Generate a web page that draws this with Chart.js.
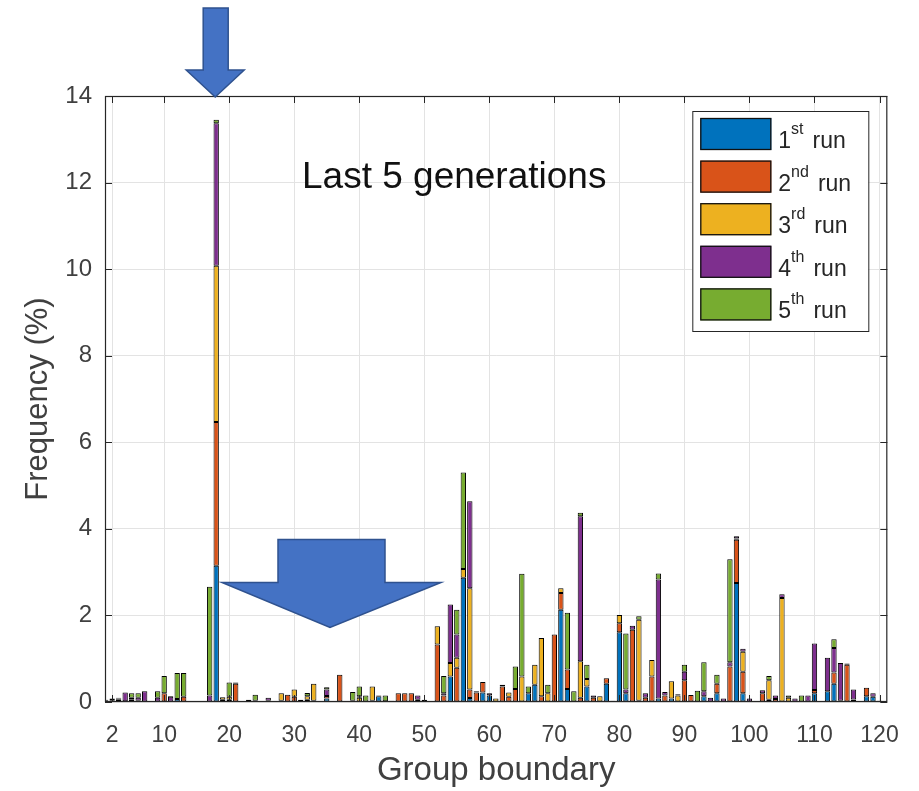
<!DOCTYPE html>
<html><head><meta charset="utf-8">
<script src="https://cdn.jsdelivr.net/npm/chart.js@4.4.0/dist/chart.umd.min.js"></script>
<style>html,body{margin:0;padding:0;background:#fff;}#wrap{width:919px;height:791px;}</style>
</head><body><div id="wrap"><canvas id="c" width="919" height="791"></canvas></div>
<script>
const groupBoundary = Array.from({length: 120}, (_, i) => i + 1);
const run1 = [
0.03,0.04,0.05,0,0.05,0,0,0,0,0,
0,0.07,0,0.01,0.01,0.01,0,3.15,0,0,
0,0,0.02,0,0,0.03,0,0,0,0,
0.02,0,0,0,0.08,0,0,0,0,0,
0,0,0.13,0,0,0,0,0,0,0,
0,0,0,0.59,0,2.87,0.09,0,0.22,0.15,
0,0,0,0,0,0.2,0.4,0,0,0,
2.13,0.3,0,0,0.36,0,0,0.42,0,1.61,
0.2,0,0,0,0,0.08,0,0.08,0,0,
0,0,0.13,0,0.2,0,0,2.75,0.2,0,
0,0,0,0,0,0,0,0,0,0.2,
0,0.25,0.42,0.03,0,0,0,0.13,0.12,0.03];
const run2 = [
0,0,0.03,0,0,0.03,0,0,0,0.2,
0,0,0.12,0,0,0,0,3.32,0.05,0.05,
0.42,0,0,0,0,0,0,0.03,0.17,0.12,
0,0.05,0.03,0,0.06,0,0.63,0,0.03,0,
0,0.03,0,0,0,0.2,0.2,0.2,0.05,0,
0,1.33,0.15,0,0.79,0,0.2,0.22,0.24,0,
0,0.36,0.12,0.3,0,0,0,0.13,0,1.56,
0.39,0.45,0,0.1,0,0.1,0,0.13,0,0.21,
0,1.67,0.03,0.1,0.59,0,0.15,0,0,0.5,
0.16,0,0,0,0.22,0,0.82,1.0,0.5,0,
0,0.2,0.05,0.07,0,0,0,0,0,0.08,
0,0,0.26,0,0.86,0,0,0.2,0,0];
const run3 = [
0,0,0,0.02,0,0,0,0,0,0,
0,0,0,0,0,0,0,3.61,0.06,0.07,
0,0,0,0,0,0,0,0.17,0,0.17,
0,0.08,0.39,0,0,0,0,0,0,0.1,
0,0.33,0,0,0,0,0,0,0,0,
0,0.42,0,0.31,0.23,0.2,2.34,0,0,0,
0.08,0,0.1,0,0.59,0,0.46,1.35,0.2,0,
0.11,0,0,0.84,0.17,0,0.13,0,0,0.19,
0,0,1.87,0,0.38,0,0,0.4,0.15,0,
0,0,0,0,0,0,0,0.03,0.46,0,
0,0,0.45,0,2.4,0.1,0,0,0,0,
0,0,0,0,0,0.06,0,0,0,0];
const run4 = [
0.02,0.04,0.02,0.2,0.05,0.07,0.25,0,0.1,0,
0.12,0,0,0,0,0,0.15,3.29,0,0,
0.03,0,0.03,0.03,0,0.07,0,0,0,0,
0.03,0,0,0.02,0.15,0.02,0,0.02,0,0.03,
0,0,0.02,0.02,0.03,0,0,0,0.1,0.05,
0,0,0.05,1.35,0.54,0,2.01,0.03,0,0.05,
0,0.04,0,0,0,0,0,0,0,0,
0,0,0,3.35,0,0.05,0,0,0.03,0,
0.09,0.09,0,0.1,0,2.75,0.08,0,0.03,0.2,
0,0,0.12,0.1,0,0.08,0.1,0.05,0.07,0.08,
0,0.07,0,0.08,0.09,0,0.08,0,0.15,1.07,
0,0.77,0.57,0.87,0.03,0.23,0,0,0.08,0];
const run5 = [
0,0,0,0,0.1,0.1,0,0,0.15,0.4,
0.02,0.6,0.55,0,0,0,2.51,0.08,0,0.33,
0,0,0,0.14,0,0,0,0,0,0,
0,0.08,0,0,0.05,0,0,0,0.2,0.23,
0.15,0,0,0.13,0,0,0,0,0,0,
0,0,0.4,0,0.57,2.23,0,0,0,0,
0,0,0,0.52,2.37,0.16,0,0,0.2,0,
0,1.31,0.25,0.08,0.33,0,0,0,0,0,
1.29,0,0.08,0,0,0.14,0,0,0,0.16,
0,0.26,0.67,0,0.21,0,2.38,0,0,0,
0,0,0.1,0,0,0.05,0,0.15,0,0,
0,0,0.2,0,0,0,0,0,0,0];
const seriesNames = [["1","st"],["2","nd"],["3","rd"],["4","th"],["5","th"]];
const seriesColors = ["#0072BD","#D95319","#EDB120","#7E2F8E","#77AC30"];
const xTicks = [2,10,20,30,40,50,60,70,80,90,100,110,120];
const yTicks = [0,2,4,6,8,10,12,14];
const titleText = "Last 5 generations";

const allRuns = [run1, run2, run3, run4, run5];
const FONT = "'Liberation Sans', Arial, sans-serif";
const TXT = '#404040';

const decor = {
  id: 'decor',
  afterDraw(chart) {
    const {ctx, chartArea: {left, right, top, bottom}, scales: {x, y}} = chart;
    ctx.save();
    ctx.strokeStyle = '#262626';
    ctx.lineWidth = 1.2;
    ctx.strokeRect(left + 0.5, top + 0.5, right - left - 1, bottom - top - 1);
    ctx.lineWidth = 1;
    const tl = 7;
    ctx.beginPath();
    xTicks.forEach(v => {
      const px = Math.round(x.getPixelForValue(v)) + 0.5;
      ctx.moveTo(px, bottom); ctx.lineTo(px, bottom - tl);
      ctx.moveTo(px, top); ctx.lineTo(px, top + tl);
    });
    yTicks.forEach(v => {
      const py = Math.round(y.getPixelForValue(v)) + 0.5;
      ctx.moveTo(left, py); ctx.lineTo(left + tl, py);
      ctx.moveTo(right, py); ctx.lineTo(right - tl, py);
    });
    ctx.stroke();

    ctx.fillStyle = '#111';
    ctx.font = `37px ${FONT}`;
    ctx.textAlign = 'center';
    ctx.textBaseline = 'middle';
    ctx.fillText(titleText, x.getPixelForValue(54.6), y.getPixelForValue(12.1));

    const bx = right - 195, by = top + 15, bw = 176, bh = 220;
    ctx.fillStyle = '#fff';
    ctx.fillRect(bx, by, bw, bh);
    ctx.strokeStyle = '#262626';
    ctx.lineWidth = 1;
    ctx.strokeRect(bx + 0.5, by + 0.5, bw, bh);
    seriesNames.forEach((nm, i) => {
      const sy = by + 7 + i * 42.6;
      ctx.fillStyle = seriesColors[i];
      ctx.fillRect(bx + 8, sy, 71, 32);
      ctx.strokeStyle = '#111';
      ctx.lineWidth = 1.3;
      ctx.strokeRect(bx + 8.5, sy + 0.5, 70, 31);
      ctx.fillStyle = '#262626';
      ctx.textAlign = 'left';
      ctx.textBaseline = 'alphabetic';
      const base = sy + 30;
      let tx = bx + 86;
      ctx.font = `23px ${FONT}`;
      ctx.fillText(nm[0], tx, base);
      tx += ctx.measureText(nm[0]).width;
      ctx.font = `16px ${FONT}`;
      ctx.fillText(nm[1], tx, base - 14);
      tx += ctx.measureText(nm[1]).width + 9;
      ctx.font = `23px ${FONT}`;
      ctx.fillText('run', tx, base);
    });

    const drawArrow = (pts) => {
      ctx.beginPath();
      pts.forEach((p, k) => k ? ctx.lineTo(p[0], p[1]) : ctx.moveTo(p[0], p[1]));
      ctx.closePath();
      ctx.fillStyle = '#4472C4';
      ctx.fill();
      ctx.strokeStyle = '#2F528F';
      ctx.lineWidth = 1.5;
      ctx.stroke();
    };
    const tx1 = x.getPixelForValue(18) - 1, ty1 = top + 1;
    drawArrow([[tx1 - 12, 8], [tx1 + 13, 8], [tx1 + 13, ty1 - 27], [tx1 + 29, ty1 - 27],
               [tx1, ty1], [tx1 - 29, ty1 - 27], [tx1 - 12, ty1 - 27]]);
    const tx2 = x.getPixelForValue(35.5), ty2 = y.getPixelForValue(1.72);
    drawArrow([[tx2 - 52, ty2 - 88], [tx2 + 55, ty2 - 88], [tx2 + 55, ty2 - 45], [tx2 + 111, ty2 - 45],
               [tx2, ty2], [tx2 - 108, ty2 - 45], [tx2 - 52, ty2 - 45]]);
    ctx.restore();
  }
};

new Chart(document.getElementById('c'), {
  type: 'bar',
  data: {
    datasets: allRuns.map((run, k) => ({
      label: seriesNames[k].join('') + ' run',
      data: groupBoundary.map((g, i) => ({x: g, y: run[i]})),
      backgroundColor: seriesColors[k],
      borderColor: '#000',
      borderWidth: 1,
      borderSkipped: false,
      barPercentage: 0.82,
      categoryPercentage: 1.0
    }))
  },
  options: {
    responsive: false,
    animation: false,
    devicePixelRatio: 1,
    layout: {padding: {left: 0, right: 31, top: 96, bottom: 0}},
    plugins: {legend: {display: false}, tooltip: {enabled: false}},
    scales: {
      x: {
        type: 'linear', stacked: true, min: 0.9, max: 121.2, offset: false,
        afterBuildTicks: s => { s.ticks = xTicks.map(v => ({value: v})); },
        afterFit: s => { s.height = 89; },
        grid: {color: '#e3e3e3', lineWidth: 1, drawTicks: false, offset: false},
        border: {display: false},
        ticks: {color: TXT, font: {family: FONT, size: 23}, padding: 20, maxRotation: 0, autoSkip: false},
        title: {display: true, text: 'Group boundary', color: TXT, font: {family: FONT, size: 33}, padding: {top: 0, bottom: 0}}
      },
      y: {
        stacked: true, min: 0, max: 14,
        afterBuildTicks: s => { s.ticks = yTicks.map(v => ({value: v})); },
        afterFit: s => { s.width = 105; },
        grid: {color: '#e3e3e3', lineWidth: 1, drawTicks: false},
        border: {display: false},
        ticks: {color: TXT, font: {family: FONT, size: 24}, padding: 13},
        title: {display: true, text: 'Frequency (%)', color: TXT, font: {family: FONT, size: 31}, padding: {top: 20, bottom: 0}}
      }
    }
  },
  plugins: [decor]
});
</script></body></html>
